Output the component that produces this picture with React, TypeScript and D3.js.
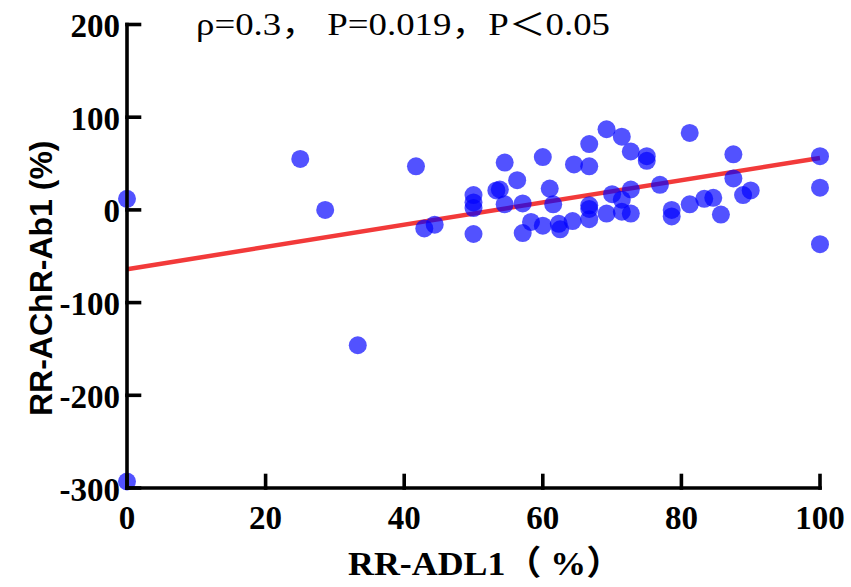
import React from "react";
import * as d3 from "d3";

const xValues: number[] = [
  0, 0, 25, 28.6, 33.3, 41.7, 42.9, 44.4, 50, 50, 50, 50, 53.3, 53.8, 54.5, 54.5,
  56.3, 57.1, 57.1, 58.3, 60, 60, 61, 61.5, 62.3, 62.5, 64.3, 64.5, 66.7, 66.7,
  66.7, 66.7, 66.7, 69.2, 69.2, 70, 71.4, 71.4, 71.4, 72.7, 72.7, 72.7, 75, 75,
  76.9, 78.6, 78.6, 81.2, 81.2, 83.3, 84.6, 85.7, 87.5, 87.5, 88.9, 90, 100, 100, 100,
];
const yValues: number[] = [
  12, -293, 55, 0, -146, 47, -20, -16, 16, 8, 2, -26, 21, 22, 51, 6,
  32, 7, -25, -13, 57, -17, 23, 6, -15, -21, -12, 49, 71, 47,
  5, 1, -10, 87, -4, 17, 79, 11, -2, 63, 22, -4, 58, 53,
  27, 0, -7, 83, 6, 12, 13, -5, 60, 34, 16, 21, 58, 24, -37,
];
const fitX: number[] = [0, 100];
const fitY: number[] = [-64, 56];
const xTicks: number[] = [0, 20, 40, 60, 80, 100];
const yTicks: number[] = [-300, -200, -100, 0, 100, 200];
const annotation = "ρ=0.3，  P=0.019，P＜0.05";
const xLabel = "RR-ADL1（  %）";
const yLabel = "RR-AChR-Ab1 (%)";

export default function App() {
  const W = 851;
  const H = 587;
  const x = d3.scaleLinear().domain([0, 100]).range([127, 820]);
  const y = d3.scaleLinear().domain([-300, 200]).range([488, 24.5]);
  const line = d3
    .line<number>()
    .x((_, i) => x(fitX[i]))
    .y((d) => y(d));
  const tickLen = 12.5;
  const serif = "'Liberation Serif', 'Times New Roman', 'Noto Sans CJK SC', serif";
  return (
    <svg
      width={W}
      height={H}
      style={{ position: "absolute", left: 0, top: 0, background: "#fff" }}
    >
      <rect x={0} y={0} width={W} height={H} fill="#fff" />
      <path d={line(fitY) || ""} stroke="#f23a3a" strokeWidth={4.5} fill="none" />
      {xValues.map((xv, i) => (
        <circle
          key={i}
          cx={x(xv)}
          cy={y(yValues[i])}
          r={9}
          fill="#0000ff"
          fillOpacity={0.68}
        />
      ))}
      <g stroke="#000" strokeWidth={3.6} strokeLinecap="square">
        <line x1={x(0)} y1={y(200)} x2={x(0)} y2={y(-300)} />
        <line x1={x(0)} y1={y(-300)} x2={x(100)} y2={y(-300)} />
        {yTicks.map((t) => (
          <line key={"yt" + t} x1={x(0)} x2={x(0) + tickLen} y1={y(t)} y2={y(t)} />
        ))}
        {xTicks.map((t) => (
          <line key={"xt" + t} x1={x(t)} x2={x(t)} y1={y(-300)} y2={y(-300) - tickLen} />
        ))}
      </g>
      <g fontFamily={serif} fontWeight="bold" fontSize={33} fill="#000">
        {yTicks.map((t) => (
          <text key={"yl" + t} x={x(0) - 7} y={y(t)} dy="0.38em" textAnchor="end">
            {t}
          </text>
        ))}
        {xTicks.map((t) => (
          <text key={"xl" + t} x={x(t)} y={y(-300) + 41} textAnchor="middle">
            {t}
          </text>
        ))}
      </g>
      <text
        x={196}
        y={35}
        fontFamily={serif}
        fontSize={31}
        fill="#000"
        textLength={414}
        lengthAdjust="spacingAndGlyphs"
      >
        {annotation}
      </text>
      <text
        x={348}
        y={575}
        fontFamily={serif}
        fontWeight="bold"
        fontSize={34}
        fill="#000"
        textLength={274}
        lengthAdjust="spacingAndGlyphs"
      >
        {xLabel}
      </text>
      <text
        transform={`translate(52, ${(y(200) + y(-300)) / 2 + 22}) rotate(-90)`}
        textAnchor="middle"
        fontFamily="'Liberation Sans', Arial, sans-serif"
        fontWeight="bold"
        fontSize={32}
        fill="#000"
      >
        {yLabel}
      </text>
    </svg>
  );
}
